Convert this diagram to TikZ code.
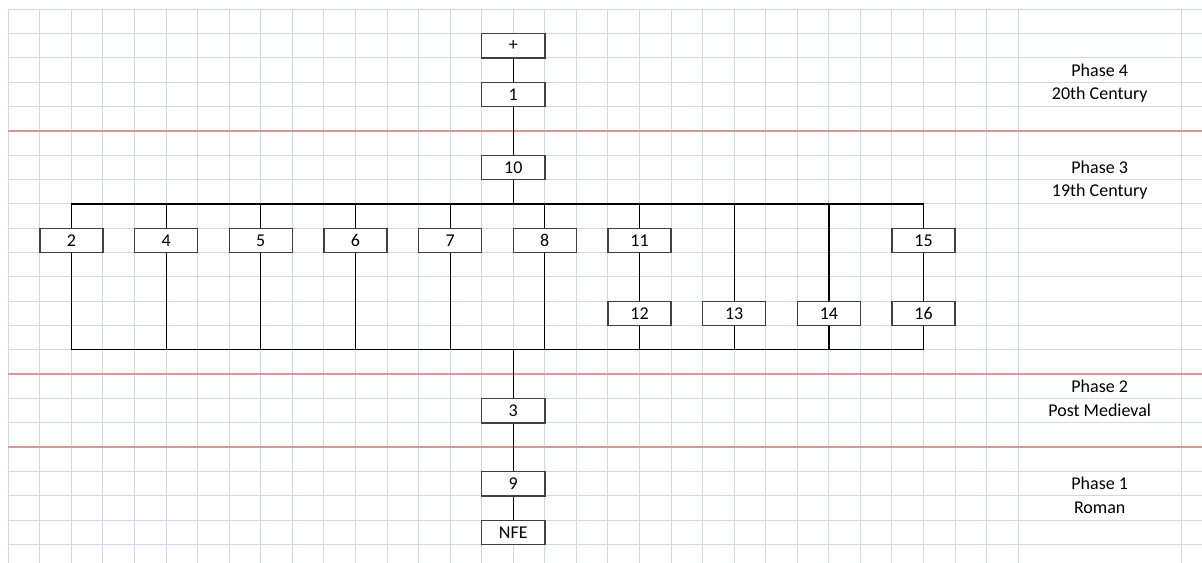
\documentclass[tikz,border=0pt]{standalone}
\usepackage{fontspec}
\setmainfont{Carlito}
\definecolor{gridc}{RGB}{208,215,229}
\definecolor{redline}{RGB}{217,150,148}
\definecolor{boxc}{RGB}{64,64,64}
\begin{document}
\begin{tikzpicture}[x=0.75pt,y=-0.75pt,
  cell/.style={draw=boxc,line width=1pt,fill=white,minimum width=47.3pt,minimum height=18.2pt,inner sep=0pt,font=\fontsize{13.5}{15}\selectfont},
  conn/.style={draw=black,line width=0.9pt},
  phase/.style={font=\fontsize{13.5}{15}\selectfont,inner sep=0pt},
  gridline/.style={draw=gridc,line width=0.75pt},
  sep/.style={draw=redline,line width=1.4pt}]
\useasboundingbox[fill=white] (0,0) rectangle (1202,563);
% grid
\foreach \k in {0,...,32}{\draw[gridline] ({8.3+31.56*\k},9.3) -- ({8.3+31.56*\k},563);}
\draw[gridline] (1181,9.3) -- (1181,563);
\foreach \k in {0,...,22}{\draw[gridline] (8.3,{9.3+24.32*\k}) -- (1202,{9.3+24.32*\k});}
% phase separators
\draw[sep] (8.3,130.9) -- (1202,130.9);
\draw[sep] (8.3,374.1) -- (1202,374.1);
\draw[sep] (8.3,447.1) -- (1202,447.1);
% bus levels
\coordinate (ubus) at (0,203.9);
\coordinate (lbus) at (0,349.8);
% boxes
\node[cell] (bplus) at (513.3,45.8) {+};
\node[cell] (b1) at (513.3,94.4) {1};
\node[cell] (b10) at (513.3,167.4) {10};
\node[cell] (b2) at (71.4,240.4) {2};
\node[cell] (b4) at (166.1,240.4) {4};
\node[cell] (b5) at (260.8,240.4) {5};
\node[cell] (b6) at (355.5,240.4) {6};
\node[cell] (b7) at (450.1,240.4) {7};
\node[cell] (b8) at (544.8,240.4) {8};
\node[cell] (b11) at (639.5,240.4) {11};
\node[cell] (b15) at (923.5,240.4) {15};
\node[cell] (b12) at (639.5,313.4) {12};
\node[cell] (b13) at (734.2,313.4) {13};
\node[cell] (b14) at (828.9,313.4) {14};
\node[cell] (b16) at (923.5,313.4) {16};
\node[cell] (b3) at (513.3,410.7) {3};
\node[cell] (b9) at (513.3,483.7) {9};
\node[cell] (bnfe) at (513.3,532.4) {NFE};
% top chain
\draw[conn] (bplus) -- (b1);
\draw[conn] (b1) -- (b10);
\draw[conn] (b10.south) -- (b10.south |- ubus);
% upper bus
\draw[conn] (b2.north) -- (b2.north |- ubus) -| (b15.north);
\foreach \n in {b4,b5,b6,b7,b8,b11,b13,b14}{\draw[conn] (\n.north) -- (\n.north |- ubus);}
\draw[conn] (b11) -- (b12);
\draw[conn] (b15) -- (b16);
% lower bus
\draw[conn] (b2.south) -- (b2.south |- lbus) -| (b16.south);
\foreach \n in {b4,b5,b6,b7,b8,b12,b13,b14}{\draw[conn] (\n.south) -- (\n.south |- lbus);}
\draw[conn] (b3.north) -- (b3.north |- lbus);
% bottom chain
\draw[conn] (b3) -- (b9);
\draw[conn] (b9) -- (bnfe);
% phase labels
\node[phase] (p4) at (1099.7,70.1) {Phase 4};
\node[phase] (p4t) at (1099.7,94.4) {20th Century};
\node[phase] (p3) at (1099.7,167.4) {Phase 3};
\node[phase] (p3t) at (1099.7,191.7) {19th Century};
\node[phase] (p2) at (1099.7,386.3) {Phase 2};
\node[phase] (p2t) at (1099.7,410.7) {Post Medieval};
\node[phase] (p1) at (1099.7,483.7) {Phase 1};
\node[phase] (p1t) at (1099.7,508.0) {Roman};
\end{tikzpicture}
\end{document}
